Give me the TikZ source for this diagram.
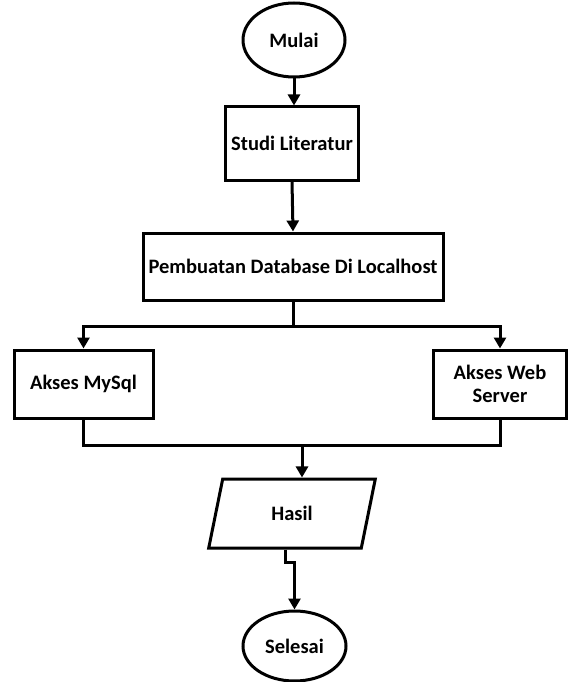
\documentclass[tikz,border=0pt]{standalone}
\usepackage{fontspec}
\setmainfont{Carlito}
\usetikzlibrary{shapes.geometric,arrows.meta,shadows}
\begin{document}
\begin{tikzpicture}[x=1pt,y=-1pt,
  base/.style={draw=black,line width=3pt,fill=white,align=center,inner sep=0pt,
    font=\fontsize{20.5}{23}\selectfont\bfseries,
    drop shadow={opacity=0.12,shadow xshift=1.5pt,shadow yshift=-1.5pt}},
  procbox/.style={base,rectangle},
  termbox/.style={base,ellipse},
  iobox/.style={base,trapezium,trapezium left angle=74,trapezium right angle=106,trapezium stretches=true},
  conn/.style={line width=3pt},
  arr/.style={conn,-{Triangle[width=12pt,length=11pt]}}]
\useasboundingbox (0,0) rectangle (568,682);
\node[termbox,minimum width=102pt,minimum height=74pt] (mulai) at (294,40) {Mulai};
\node[procbox,minimum width=133pt,minimum height=73pt] (studi) at (292,143.5) {Studi Literatur};
\node[procbox,minimum width=300pt,minimum height=67pt] (buat) at (293,266.5) {Pembuatan Database Di Localhost};
\node[procbox,minimum width=139pt,minimum height=68pt] (mysql) at (83.5,384) {Akses MySql};
\node[procbox,minimum width=133pt,minimum height=68pt] (web) at (500,384) {Akses Web\\Server};
\node[iobox,minimum width=167pt,minimum height=69pt] (hasil) at (292,513.5) {Hasil};
\node[termbox,minimum width=103pt,minimum height=70pt] (selesai) at (294.5,646) {Selesai};
\coordinate (split) at (293,326);
\coordinate (merge) at (302,445);
\coordinate (jog) at (285,562);
\draw[arr] (mulai.south) -- (mulai.south |- studi.north);
\draw[arr] (studi.south) -- (buat.north);
\draw[conn] (buat.south) -- (split);
\draw[arr] (split) -| (mysql.north);
\draw[arr] (split) -| (web.north);
\draw[conn] (mysql.south) |- (merge) -| (web.south);
\draw[arr] (merge) -- (merge |- hasil.north);
\draw[arr] (jog |- hasil.south) -- (jog) -- (jog -| selesai.north) -- (selesai.north);
\end{tikzpicture}
\end{document}
